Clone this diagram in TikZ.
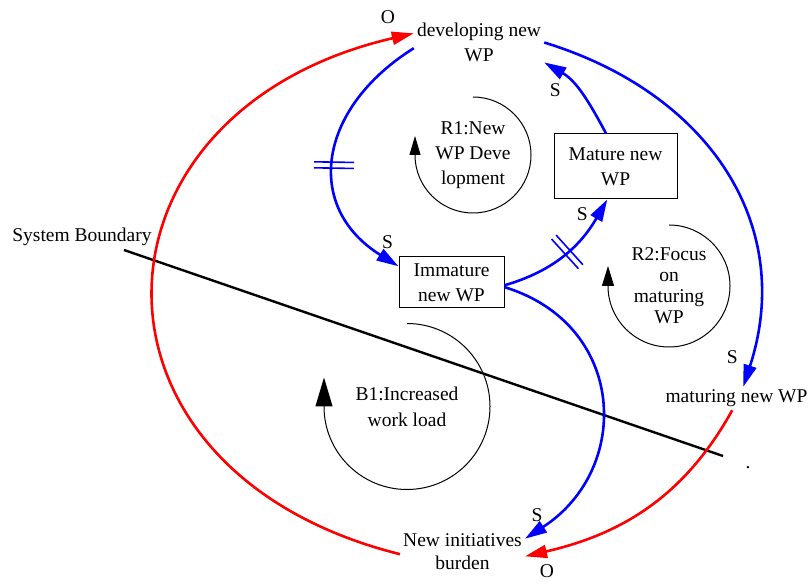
\documentclass[tikz,border=0pt]{standalone}
\usepackage{fontspec}
\setmainfont{Liberation Serif}
\usetikzlibrary{arrows.meta, decorations.markings}
\tikzset{
  every node/.style={font=\fontsize{19.5}{25}\selectfont},
  var/.style={align=center, inner sep=3pt},
  stock/.style={var, draw, line width=1pt},
  link/.style={draw=blue, line width=2.6pt, -{Triangle[length=22pt,width=13pt]}},
  oplink/.style={link, draw=red},
  lbl/.style={inner sep=1pt},
  delay/.style={postaction={decorate, decoration={markings,
      mark=at position #1 with {\draw[-, blue, line width=1.6pt] (-3pt,-20pt) -- (-3pt,20pt) (3pt,-20pt) -- (3pt,20pt);}}}},
  loopline/.style={draw, line width=1pt},
  boundary/.style={draw, line width=2.4pt},
}
\begin{document}
\begin{tikzpicture}[x=1pt, y=1pt]
\useasboundingbox (0,0) rectangle (808,581);
% variables
\node[var] (dev) at (479,538.5) {developing new\\WP};
\node[stock, minimum width=123, minimum height=65] (mat) at (615.5,414.5) {Mature new\\WP};
\node[stock, minimum width=105, minimum height=51] (imm) at (451.5,298.5) {Immature\\new WP};
\node[var] (matur) at (736.5,182.5) {maturing new WP};
\node[var, font=\fontsize{19.5}{23}\selectfont] (burd) at (462.5,29) {New initiatives\\burden};
\node[var] (sysb) at (82,344.5) {System Boundary};
\node[var] (dot) at (748,113) {.};
% loop names
\node[var] (r1) at (473,426) {R1:New\\WP Deve\\lopment};
\node[var, font=\fontsize{19.5}{21}\selectfont] (r2) at (669,295) {R2:Focus\\on\\maturing\\WP};
\node[var, font=\fontsize{19.5}{26}\selectfont] (b1) at (407,174.5) {B1:Increased\\work load};
\foreach \n/\r/\l/\w in {r1/58/19/11, r2/61/20/12, b1/83/29/17}
  \draw[loopline, -{Triangle[length=\l pt, width=\w pt]}] (\n.center) ++(0,\r)
     arc[start angle=90, end angle=-180, radius=\r] -- ++(0,\l);
% boundary
\coordinate (sb1) at (124,331);
\coordinate (sb2) at (723,125);
\draw[boundary] (sb1) -- (sb2);
% links
\draw[link, delay=0.54] (dev.185) to[out=212, in=148, looseness=1.32]
   node[lbl, pos=1, shift={(-11,24.5)}] {S} (imm.163);
\draw[link, delay=0.52] (imm.-3) to[out=16, in=240]
   node[lbl, pos=1, shift={(-25,-15)}] {S} (mat.256);
\draw[link] (mat.106) to[out=118, in=-30]
   node[lbl, pos=1, shift={(11,-27.6)}] {S} (dev.-17);
\draw[link] (dev.east) to[out=-17, in=72, looseness=1.1]
   node[lbl, pos=1, shift={(-11,30)}] {S} (matur.60);
\draw[link] (imm.-5) to[out=-17, in=33, looseness=1.3]
   node[lbl, pos=1, shift={(12,24)}] {S} (burd.12);
\draw[oplink] (matur.-110) to[out=241, in=13]
   node[lbl, pos=1, shift={(22,-15)}] {O} (burd.-4);
\draw[oplink] (burd.182) to[out=166, in=193, looseness=1.7]
   node[lbl, pos=1, shift={(-26,16.4)}] {O} (dev.172);
\end{tikzpicture}
\end{document}
